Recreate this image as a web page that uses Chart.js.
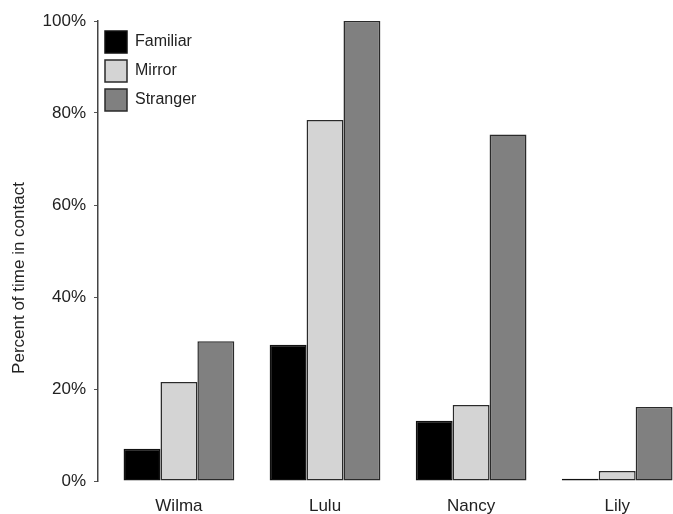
<!DOCTYPE html>
<html>
<head>
<meta charset="utf-8">
<script src="https://cdn.jsdelivr.net/npm/chart.js@4/dist/chart.umd.min.js"></script>
<style>
  html, body { margin: 0; padding: 0; background: #ffffff; }
  #wrap { width: 673px; height: 514px; }
</style>
</head>
<body>
<div id="wrap"><canvas id="c" width="673" height="514"></canvas></div>
<script>
// ---- data ----
const categories = ['Wilma', 'Lulu', 'Nancy', 'Lily'];
const seriesNames = ['Familiar', 'Mirror', 'Stranger'];
const familiar = [7.0, 29.6, 13.1, 0.5];
const mirror   = [21.5, 78.5, 16.5, 2.2];
const stranger = [30.4, 100, 75.3, 16.1];
const yTicks = [0, 20, 40, 60, 80, 100];
const yTitle = 'Percent of time in contact';

const FONT = "'Liberation Sans', Arial, Helvetica, sans-serif";
const TEXT = '#222222';

function toPoints(arr) { return arr.map((v, i) => ({ x: i, y: v })); }

const yTitlePlugin = {
  id: 'yTitle',
  afterDraw(chart) {
    const { ctx, chartArea } = chart;
    ctx.save();
    ctx.font = '17px ' + FONT;
    ctx.fillStyle = TEXT;
    ctx.textAlign = 'center';
    ctx.textBaseline = 'middle';
    ctx.translate(19.5, (chartArea.top + chartArea.bottom) / 2 + 27);
    ctx.rotate(-Math.PI / 2);
    ctx.fillText(yTitle, 0, 0);
    ctx.restore();
  }
};

new Chart(document.getElementById('c'), {
  type: 'bar',
  data: {
    datasets: [
      { label: seriesNames[0], data: toPoints(familiar), backgroundColor: '#000000', borderColor: '#111111', borderWidth: 1.5, borderSkipped: false },
      { label: seriesNames[1], data: toPoints(mirror),   backgroundColor: '#d4d4d4', borderColor: '#2a2a2a', borderWidth: 1.5, borderSkipped: false },
      { label: seriesNames[2], data: toPoints(stranger), backgroundColor: '#808080', borderColor: '#2a2a2a', borderWidth: 1.5, borderSkipped: false }
    ]
  },
  options: {
    responsive: false,
    animation: false,
    layout: { padding: { top: 21, left: 0, right: 0, bottom: 0 } },
    datasets: { bar: { categoryPercentage: 0.758, barPercentage: 1.0 } },
    plugins: {
      tooltip: { enabled: false },
      legend: {
        position: 'chartArea',
        align: 'start',
        title: { display: true, text: '', font: { size: 4, lineHeight: 1 }, padding: { top: 20, bottom: 0 } },
        labels: {
          boxWidth: 22,
          boxHeight: 22,
          padding: 7,
          color: TEXT,
          font: { family: FONT, size: 16 }
        }
      }
    },
    scales: {
      x: {
        type: 'linear',
        offset: false,
        min: -0.554,
        max: 3.382,
        grid: { display: false, drawTicks: false },
        border: { display: false },
        ticks: {
          stepSize: 1,
          includeBounds: false,
          padding: 15,
          color: TEXT,
          font: { family: FONT, size: 17 },
          maxRotation: 0,
          autoSkip: false,
          callback: (v) => (Number.isInteger(v) && categories[v] !== undefined) ? categories[v] : ''
        },
        afterFit: (s) => { s.height = 33; }
      },
      y: {
        min: 0,
        max: 100,
        afterBuildTicks: (s) => { s.ticks = yTicks.map(v => ({ value: v })); },
        grid: { display: true, drawOnChartArea: false, drawTicks: true, tickLength: 4, color: '#555555', lineWidth: 1 },
        border: { display: true, color: '#444444', width: 1.5 },
        ticks: {
          padding: 8,
          color: TEXT,
          font: { family: FONT, size: 17 },
          callback: (v) => v + '%'
        },
        afterFit: (s) => { s.width = 98; }
      }
    }
  },
  plugins: [yTitlePlugin]
});
</script>
</body>
</html>
